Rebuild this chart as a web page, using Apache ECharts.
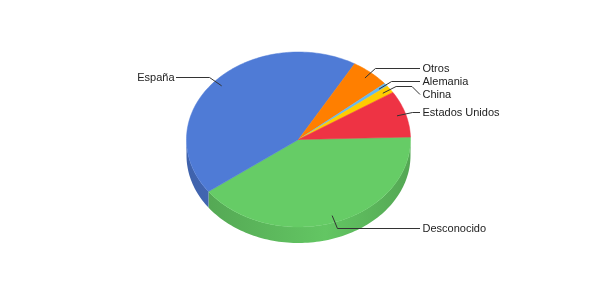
<!DOCTYPE html>
<html><head><meta charset="utf-8">
<script src="https://cdn.jsdelivr.net/npm/echarts@6/dist/echarts.min.js"></script>
<style>html,body{margin:0;padding:0;background:#fff}#c{width:600px;height:300px}</style>
</head><body><div id="c"></div>
<script>
const categories = ['Desconocido', 'España', 'Otros', 'Alemania', 'China', 'Estados Unidos'];
const values = [40.3, 43.5, 5.6, 0.6, 1.4, 8.6];
const colors = ['#66CC66', '#4F7BD6', '#FF7F00', '#66B8F0', '#FFCC00', '#EE3344'];

const CX = 298.5, CY = 139.5, RX = 112, RY = 87.5, DEPTH = 16, START = -1.6;
const total = values.reduce((a, b) => a + b, 0);

function pt(deg, f, dy) {
  const r = deg * Math.PI / 180;
  return [CX + RX * f * Math.cos(r), CY + RY * f * Math.sin(r) + (dy || 0)];
}
function arc(a0, a1, dy) {
  const n = Math.max(2, Math.ceil(Math.abs(a1 - a0) / 1.5));
  const p = [];
  for (let k = 0; k <= n; k++) p.push(pt(a0 + (a1 - a0) * k / n, 1, dy));
  return p;
}
function shade(hex, f) {
  const n = parseInt(hex.slice(1), 16);
  const r = Math.round(((n >> 16) & 255) * f), g = Math.round(((n >> 8) & 255) * f), b = Math.round((n & 255) * f);
  return 'rgb(' + r + ',' + g + ',' + b + ')';
}

// layout computed from the data
const slices = [];
let acc = START;
values.forEach((v, i) => {
  const span = v / total * 360;
  const a0 = acc, a1 = acc + span, mid = (a0 + a1) / 2;
  const right = Math.cos(mid * Math.PI / 180) > 0;
  slices.push({ a0, a1, mid, right, anchor: pt(mid, 0.92), elbow: pt(mid, 1.065) });
  acc = a1;
});
['R', 'L'].forEach(side => {
  const grp = slices.filter(s => (side === 'R') === s.right).sort((a, b) => a.elbow[1] - b.elbow[1]);
  let prev = -1e9;
  grp.forEach(s => {
    let y = Math.round(Math.max(s.elbow[1], prev + 13));
    s.textY = y; prev = y;
  });
});

function renderItem(params, api) {
  const i = params.dataIndex;
  const s = slices[i];
  const col = colors[i];
  const children = [];
  // side wall (front half only)
  [[0, 180], [360, 540]].forEach(r => {
    const lo = Math.max(s.a0, r[0]), hi = Math.min(s.a1, r[1]);
    if (hi > lo) {
      const top = arc(lo, hi, 0);
      const bot = arc(lo, hi, DEPTH).reverse();
      children.push({
        type: 'polygon', z2: 1,
        shape: { points: top.concat(bot) },
        style: {
          fill: new echarts.graphic.LinearGradient(CX - RX, 0, CX + RX, 0, [
            { offset: 0, color: shade(col, 0.80) },
            { offset: 0.62, color: shade(col, 0.97) },
            { offset: 1, color: shade(col, 0.82) }
          ], true),
          stroke: null
        }
      });
    }
  });
  // top face
  children.push({
    type: 'polygon', z2: 5,
    shape: { points: [[CX, CY]].concat(arc(s.a0, s.a1, 0)) },
    style: { fill: col, stroke: col, lineWidth: 0.5 }
  });
  // label line
  const endX = s.right ? CX + RX + 9.5 : CX - RX - 10.5;
  const ty = s.textY + 0.5;
  const ey = Math.round(s.elbow[1]) + 0.5;
  let pts;
  if (Math.abs(s.textY - Math.round(s.elbow[1])) < 1) {
    pts = [s.anchor, [s.elbow[0], ty], [endX, ty]];
  } else {
    pts = [s.anchor, [s.elbow[0], ey], [endX + (s.right ? -8 : 8), ey], [endX, ty]];
  }
  children.push({
    type: 'polyline', z2: 10,
    shape: { points: pts },
    style: { stroke: '#333', lineWidth: 1, fill: null }
  });
  children.push({
    type: 'text', z2: 10,
    style: {
      text: categories[i],
      x: s.right ? endX + 2.5 : endX - 1.5,
      y: ty,
      fill: '#222',
      font: '11px "Liberation Sans", Arial, sans-serif',
      align: s.right ? 'left' : 'right',
      verticalAlign: 'middle'
    }
  });
  return { type: 'group', children };
}

const chart = echarts.init(document.getElementById('c'), null, { renderer: 'canvas' });
chart.setOption({
  animation: false,
  backgroundColor: '#fff',
  series: [{
    type: 'custom',
    coordinateSystem: 'none',
    renderItem,
    data: values.map((v, i) => ({ name: categories[i], value: v }))
  }]
});
</script>
</body></html>
